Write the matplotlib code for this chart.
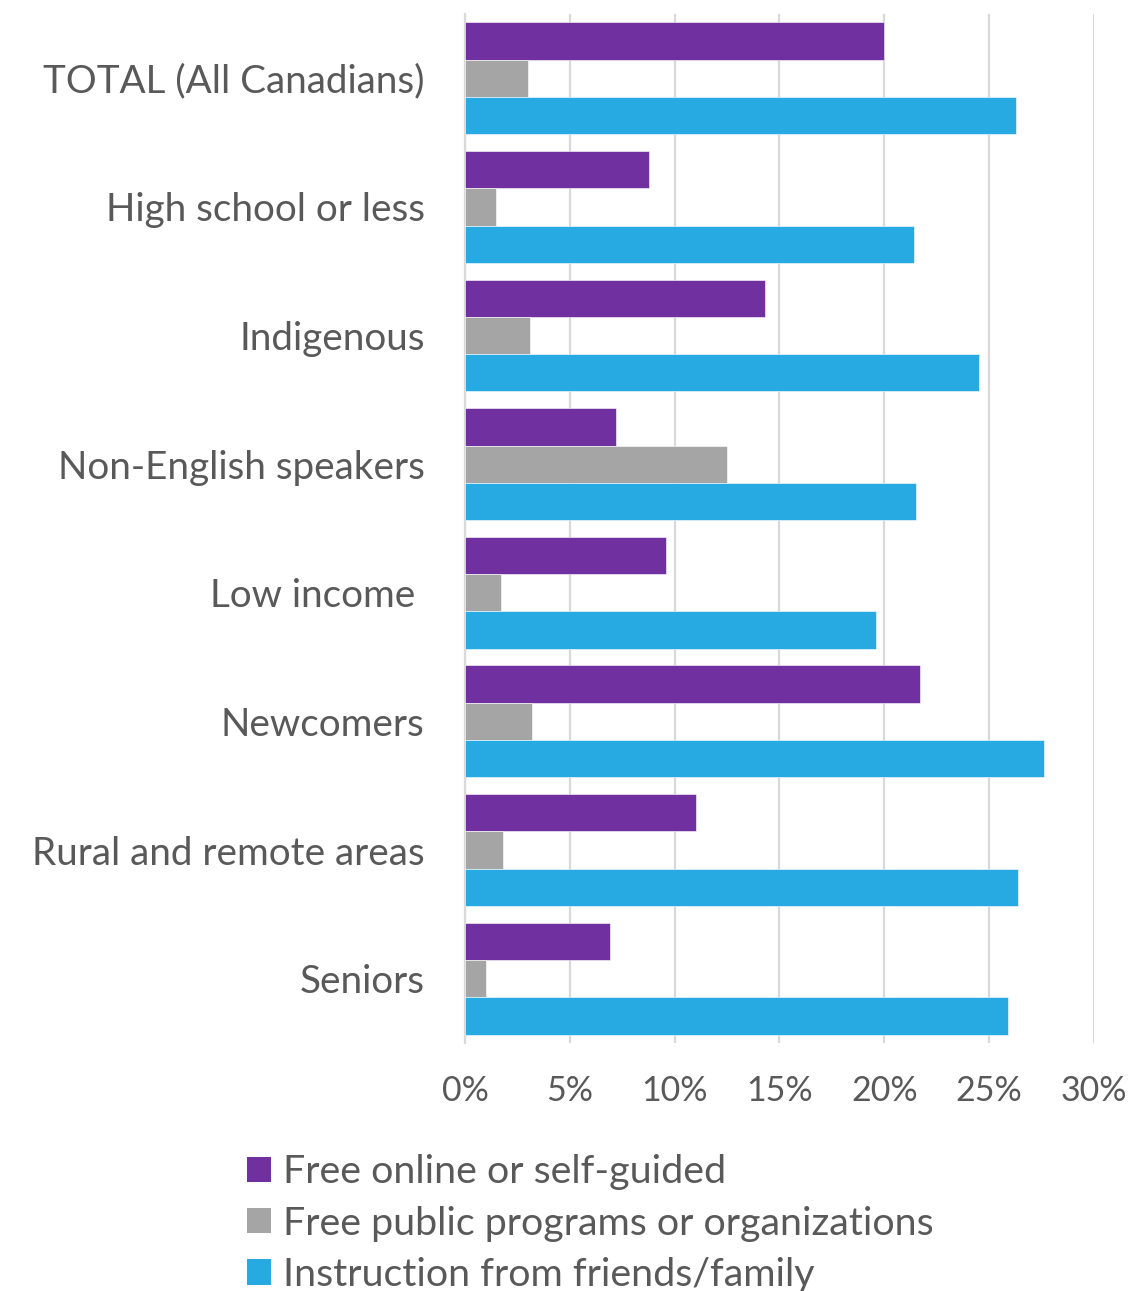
import numpy as np
from matplotlib import pyplot as plt
from matplotlib.patches import Patch

plt.rcParams['font.family'] = ['Lato', 'DejaVu Sans']

groups = ['TOTAL (All Canadians)', 'High school or less', 'Indigenous',
          'Non-English speakers', 'Low income ', 'Newcomers',
          'Rural and remote areas', 'Seniors']

# shares in percent, one list per type of help
self_guided = [20.0, 8.8, 14.3, 7.2, 9.6, 21.7, 11.0, 6.9]
public_programs = [3.0, 1.5, 3.1, 12.5, 1.7, 3.2, 1.8, 1.0]
friends_family = [26.3, 21.4, 24.5, 21.5, 19.6, 27.6, 26.4, 25.9]

series_names = ['Free online or self-guided',
                'Free public programs or organizations',
                'Instruction from friends/family']
colors = ['#7030A0', '#A5A5A5', '#27A9E1']
xticks = [0, 5, 10, 15, 20, 25, 30]
text_color = '#595959'

fig = plt.figure(figsize=(11.3, 12.91), dpi=100)
ax = fig.add_axes([0.4115, 0.1921, 0.5566, 0.7971])

y = np.arange(len(groups))
h = 0.29
for i, vals in enumerate([self_guided, public_programs, friends_family]):
    ax.barh(y + (i - 1) * h, vals, height=h, color=colors[i],
            edgecolor='white', linewidth=0.4, zorder=3)

ax.set_ylim(len(groups) - 0.5, -0.5)
ax.set_xlim(0, 30)
ax.set_yticks(y)
ax.set_yticklabels(groups)
ax.set_xticks(xticks)
ax.set_xticklabels([f'{t}%' for t in xticks])

ax.grid(axis='x', color='#D9D9D9', linewidth=1.6, zorder=0)
ax.set_axisbelow(True)
for side in ['top', 'right', 'bottom']:
    ax.spines[side].set_visible(False)
ax.spines['left'].set_color('#D9D9D9')
ax.spines['left'].set_linewidth(1.6)
ax.tick_params(axis='y', length=0, pad=29, labelsize=27.8, labelcolor=text_color)
ax.tick_params(axis='x', length=0, pad=23, labelsize=24.5, labelcolor=text_color)

handles = [Patch(facecolor=c) for c in colors]
fig.legend(handles, series_names, loc='upper left',
           bbox_to_anchor=(0.2186, 0.106), frameon=False,
           fontsize=28.4, labelcolor=text_color,
           handlelength=0.6, handleheight=0.6, handletextpad=0.3,
           labelspacing=0.39, borderaxespad=0, borderpad=0)

fig.savefig('out.png', dpi=100)
